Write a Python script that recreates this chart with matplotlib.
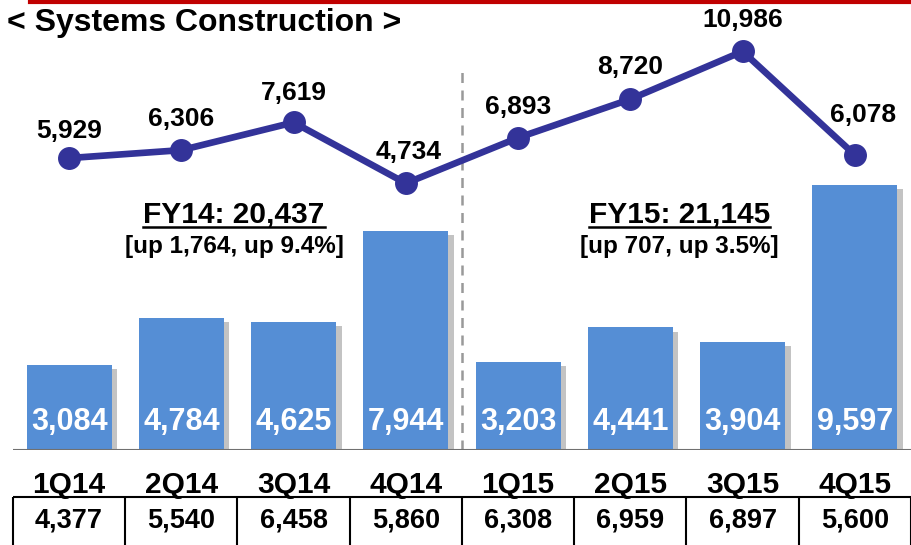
import matplotlib
matplotlib.use("Agg")
import matplotlib.pyplot as plt
import matplotlib.patheffects as pe

# data
quarters = ['1Q14', '2Q14', '3Q14', '4Q14', '1Q15', '2Q15', '3Q15', '4Q15']
bar_values = [3084, 4784, 4625, 7944, 3203, 4441, 3904, 9597]
line_values = [5929, 6306, 7619, 4734, 6893, 8720, 10986, 6078]
table_values = [4377, 5540, 6458, 5860, 6308, 6959, 6897, 5600]
fy_titles = ['FY14: 20,437', 'FY15: 21,145']
fy_notes = ['[up 1,764, up 9.4%]', '[up 707, up 3.5%]']

# label nudges (pixels) for the line labels
label_offsets = [(0, 27), (0, 31), (0, 29), (3, 31), (0, 31), (0, 32), (0, 31), (8, 40)]

BAR_COLOR = '#558ED5'
LINE_COLOR = '#333399'
FONT = ['Liberation Sans', 'DejaVu Sans']

W, H = 912, 545
fig = plt.figure(figsize=(W / 100, H / 100), dpi=100)

# main axes: baseline sits 450 px from the top
ax = fig.add_axes([13 / W, 95 / H, 898 / W, 450 / H])
x = list(range(len(quarters)))
bars = ax.bar(x, bar_values, width=0.757, color=BAR_COLOR, zorder=2)
for b in bars:
    b.set_path_effects([pe.SimplePatchShadow(offset=(4, -3), shadow_rgbFace='#555555', alpha=0.35),
                        pe.Normal()])
ax.set_xlim(-0.5, 7.5)
ax.set_ylim(0, 16300)
for s in ax.spines.values():
    s.set_visible(False)
ax.set_yticks([])
ax.axhline(0, color='#707070', lw=1.5, zorder=3)
ax.set_xticks(x)
ax.set_xticklabels(quarters, fontsize=21.5, fontweight='bold', family=FONT)
ax.tick_params(axis='x', length=0, pad=15)

for xi, v in zip(x, bar_values):
    ax.annotate(f'{v:,}', (xi, 0), xytext=(0, 28), textcoords='offset pixels',
                ha='center', va='center', color='white', fontsize=22,
                fontweight='bold', family=FONT, zorder=4)

# dashed separator between the fiscal years
ax.axvline(3.5, ymin=0, ymax=0.85, color='#999999', lw=1.8, ls=(0, (4, 3)), zorder=1)

# fiscal year summaries
trans = ax.get_xaxis_transform()
fy_texts = []
for fx, t, n in zip([1.47, 5.44], fy_titles, fy_notes):
    fy_texts.append(ax.text(fx, 0.524, t, transform=trans, ha='center', va='center',
                            fontsize=21.5, fontweight='bold', family=FONT))
    ax.text(fx, 0.452, n, transform=trans, ha='center', va='center',
            fontsize=17.5, fontweight='bold', family=FONT)

# order line on its own scale
ax2 = ax.twinx()
ax2.plot(x, line_values, color=LINE_COLOR, lw=4.8, marker='o', markersize=15.5, zorder=5)
ax2.set_ylim(-7906, 13421)
ax2.set_yticks([])
for s in ax2.spines.values():
    s.set_visible(False)
for xi, v, (dx, dy) in zip(x, line_values, label_offsets):
    ax2.annotate(f'{v:,}', (xi, v), xytext=(dx, dy), textcoords='offset pixels',
                 ha='center', va='center', fontsize=19, fontweight='bold', family=FONT)

# table of values under the chart
tab = fig.add_axes([13 / W, 0, 898 / W, 48 / H])
tab.set_xlim(-0.5, 7.5)
tab.set_ylim(0, 1)
tab.axis('off')
tab.hlines(1, -0.5, 7.5, color='black', lw=1.5, clip_on=False)
tab.vlines([i - 0.5 for i in range(9)], -0.2, 1, color='black', lw=1.5, clip_on=False)
for xi, v in zip(x, table_values):
    tab.text(xi, 0.5, f'{v:,}', ha='center', va='center', fontsize=19.5,
             fontweight='bold', family=FONT)

# title and top rule
fig.text(7 / W, 1 - 23 / H, '< Systems Construction >', ha='left', va='center',
         fontsize=23, fontweight='bold', family=FONT)
fig.add_artist(plt.Line2D([30 / W, 1], [1 - 2 / H, 1 - 2 / H], color='#C00000', lw=3))

# underline the FY headings
fig.canvas.draw()
r = fig.canvas.get_renderer()
for t in fy_texts:
    bb = t.get_window_extent(r)
    y = bb.y0 + 1
    fig.add_artist(plt.Line2D([bb.x0 / W, bb.x1 / W], [y / H, y / H], color='black', lw=1.8))

fig.savefig('out.png', dpi=100)
